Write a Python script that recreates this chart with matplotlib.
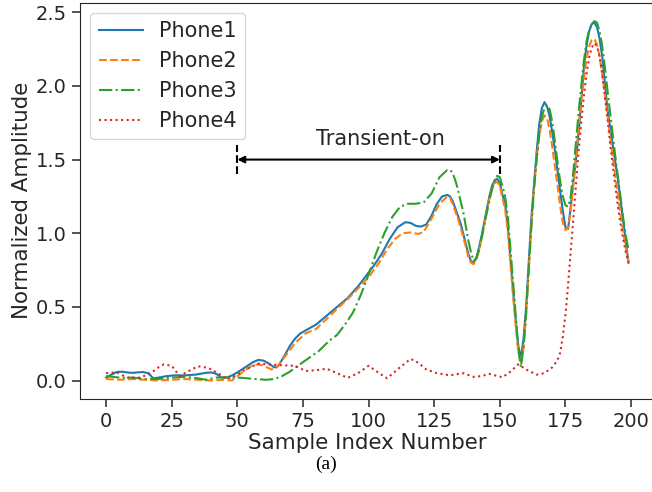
import numpy as np
import matplotlib
matplotlib.use("Agg")
import matplotlib.pyplot as plt

# sample index / normalized amplitude, one list per phone
x1 = [0, 2, 4, 6, 8, 10, 12, 14, 16, 18, 20, 23, 26, 30, 34, 38, 40, 42, 44, 46, 48, 50,
      53, 56, 58, 60, 62, 64, 65, 66, 68, 70, 72, 74, 77, 80, 84, 88, 92, 96, 99, 102,
      105, 108, 111, 114, 116, 118, 120, 122, 124, 126, 128, 130] + list(range(131, 200))
y1 = [0.02, 0.04, 0.058, 0.06, 0.055, 0.052, 0.055, 0.058, 0.05, 0.015, 0.02, 0.03, 0.035,
      0.035, 0.04, 0.052, 0.055, 0.045, 0.02, 0.02, 0.035, 0.055, 0.09, 0.125, 0.14, 0.135,
      0.115, 0.09, 0.09, 0.11, 0.17, 0.235, 0.285, 0.32, 0.35, 0.38, 0.44, 0.5, 0.56, 0.64,
      0.71, 0.78, 0.86, 0.96, 1.04, 1.075, 1.07, 1.05, 1.045, 1.06, 1.12, 1.2, 1.25, 1.26,
      # 131-140
      1.25, 1.22, 1.17, 1.12, 1.07, 1.0, 0.93, 0.86, 0.81, 0.80,
      # 141-150
      0.83, 0.9, 0.98, 1.07, 1.16, 1.25, 1.32, 1.36, 1.37, 1.34,
      # 151-160
      1.26, 1.2, 1.05, 0.83, 0.62, 0.42, 0.24, 0.15, 0.28, 0.5,
      # 161-170
      0.8, 1.1, 1.33, 1.55, 1.74, 1.85, 1.89, 1.86, 1.79, 1.68,
      # 171-180
      1.56, 1.42, 1.28, 1.15, 1.04, 1.03, 1.18, 1.35, 1.5, 1.68,
      # 181-190
      1.9, 2.12, 2.27, 2.37, 2.42, 2.43, 2.40, 2.32, 2.2, 2.02,
      # 191-199
      1.84, 1.72, 1.6, 1.48, 1.36, 1.22, 1.08, 0.94, 0.80]

x2 = [0, 5, 10, 15, 20, 25, 30, 35, 40, 45, 48, 50, 53, 56, 58, 60, 63, 65, 68, 72, 76,
      80, 85, 93, 100, 104, 107, 110, 113, 116, 119, 121, 124, 127, 130] + list(range(131, 200))
y2 = [0.01, 0.005, 0.01, 0.005, 0.0, 0.005, 0.01, 0.005, 0.0, 0.005, 0.0, 0.03, 0.07,
      0.105, 0.11, 0.1, 0.075, 0.09, 0.16, 0.255, 0.32, 0.35, 0.435, 0.57, 0.70, 0.80, 0.89,
      0.96, 1.0, 1.005, 0.995, 1.01, 1.1, 1.2, 1.25,
      # 131-140
      1.24, 1.2, 1.15, 1.1, 1.04, 0.98, 0.91, 0.84, 0.80, 0.79,
      # 141-150
      0.82, 0.88, 0.96, 1.05, 1.14, 1.23, 1.3, 1.34, 1.35, 1.32,
      # 151-160
      1.24, 1.16, 1.02, 0.8, 0.58, 0.38, 0.2, 0.12, 0.22, 0.45,
      # 161-170
      0.75, 1.05, 1.3, 1.5, 1.66, 1.76, 1.80, 1.78, 1.7, 1.58,
      # 171-180
      1.45, 1.32, 1.18, 1.07, 1.02, 1.04, 1.15, 1.33, 1.52, 1.72,
      # 181-190
      1.9, 2.05, 2.18, 2.27, 2.31, 2.32, 2.28, 2.2, 2.08, 1.95,
      # 191-199
      1.8, 1.66, 1.52, 1.38, 1.25, 1.12, 1.0, 0.9, 0.81]

x3 = [0, 5, 10, 15, 20, 25, 30, 35, 38, 42, 47, 52, 57, 61, 64, 67, 70, 73, 77, 81, 85,
      88, 91, 94, 97, 100, 103, 106, 109, 112, 115, 118, 121, 124, 127, 130] + list(range(131, 200))
y3 = [0.03, 0.02, 0.02, 0.01, 0.01, 0.02, 0.025, 0.015, 0.005, 0.02, 0.022, 0.018, 0.01,
      0.005, 0.01, 0.03, 0.06, 0.1, 0.15, 0.2, 0.27, 0.31, 0.38, 0.46, 0.58, 0.72, 0.87,
      1.0, 1.11, 1.18, 1.2, 1.2, 1.21, 1.27, 1.38, 1.43,
      # 131-140
      1.43, 1.41, 1.36, 1.3, 1.22, 1.15, 1.05, 0.95, 0.87, 0.81,
      # 141-150
      0.83, 0.88, 0.96, 1.05, 1.14, 1.22, 1.3, 1.35, 1.39, 1.38,
      # 151-160
      1.32, 1.25, 1.12, 0.9, 0.68, 0.45, 0.22, 0.09, 0.22, 0.45,
      # 161-170
      0.75, 1.05, 1.3, 1.5, 1.67, 1.79, 1.85, 1.87, 1.84, 1.75,
      # 171-180
      1.62, 1.48, 1.35, 1.25, 1.19, 1.18, 1.25, 1.42, 1.62, 1.82,
      # 181-190
      2.0, 2.17, 2.3, 2.38, 2.42, 2.44, 2.43, 2.37, 2.27, 2.13,
      # 191-199
      1.97, 1.82, 1.67, 1.52, 1.38, 1.24, 1.1, 0.98, 0.89]

x4 = [0, 4, 8, 13, 17, 20, 22, 25, 28, 31, 35, 39, 43, 46, 49, 53, 58, 65, 72, 76, 80, 84,
      88, 92, 96, 100, 104, 107, 112, 116, 119, 122, 126, 131, 136, 140, 143, 146, 151,
      154, 157, 160, 164, 167, 170, 172] + list(range(173, 200))
y4 = [0.05, 0.056, 0.02, 0.02, 0.05, 0.09, 0.11, 0.10, 0.03, 0.06, 0.097, 0.085, 0.045,
      0.01, 0.03, 0.075, 0.115, 0.105, 0.10, 0.065, 0.07, 0.08, 0.05, 0.018, 0.05, 0.10,
      0.05, 0.015, 0.09, 0.147, 0.12, 0.075, 0.05, 0.035, 0.05, 0.025, 0.03, 0.045, 0.022,
      0.06, 0.11, 0.075, 0.04, 0.05, 0.09, 0.14,
      # 173-180
      0.19, 0.3, 0.45, 0.65, 0.88, 1.1, 1.33, 1.56,
      # 181-190
      1.75, 1.93, 2.08, 2.19, 2.26, 2.29, 2.27, 2.2, 2.08, 1.93,
      # 191-199
      1.78, 1.61, 1.46, 1.32, 1.18, 1.06, 0.96, 0.87, 0.80]

labels = ["Phone1", "Phone2", "Phone3", "Phone4"]

plt.rcParams["font.family"] = "DejaVu Sans"
plt.rcParams["text.color"] = ".15"
plt.rcParams["axes.labelcolor"] = ".15"
plt.rcParams["xtick.color"] = ".15"
plt.rcParams["ytick.color"] = ".15"
plt.rcParams["axes.edgecolor"] = ".15"

fig = plt.figure(figsize=(6.52, 4.92), dpi=100)
ax = fig.add_axes([80 / 652, 93.5 / 492, 574.6 / 652, 395.8 / 492])

ax.plot(x1, y1, "-", color="tab:blue", lw=1.5, label=labels[0])
ax.plot(x2, y2, "--", color="tab:orange", lw=1.5, label=labels[1])
ax.plot(x3, y3, "-.", color="tab:green", lw=1.5, label=labels[2])
ax.plot(x4, y4, ":", color="tab:red", lw=1.5, label=labels[3])

# transient-on marker
ax.plot([50, 50], [1.4, 1.6], "k--", lw=1.5)
ax.plot([150, 150], [1.4, 1.6], "k--", lw=1.5)
ax.annotate("", xy=(50, 1.5), xytext=(150, 1.5),
            arrowprops=dict(arrowstyle="<|-|>", color="k", lw=1.5, shrinkA=0, shrinkB=0))
ax.text(80, 1.6, "Transient-on", fontsize=15)

ax.set_xlim(-9.95, 208.95)
ax.set_ylim(-0.122, 2.565)
ax.set_xticks(np.arange(0, 201, 25))
ax.set_yticks([0.0, 0.5, 1.0, 1.5, 2.0, 2.5])
ax.tick_params(labelsize=14, length=6, width=1.1)
ax.set_xlabel("Sample Index Number", fontsize=15.4, labelpad=2)
ax.set_ylabel("Normalized Amplitude", fontsize=15.4, labelpad=3)
ax.legend(loc="upper left", fontsize=15, handlelength=2.1, labelspacing=0.47)

fig.text(326 / 652, 1 - 464 / 492, "(a)", ha="center", va="center",
         fontsize=14, family="Liberation Serif", color="k")

fig.savefig("out.png", dpi=100)
